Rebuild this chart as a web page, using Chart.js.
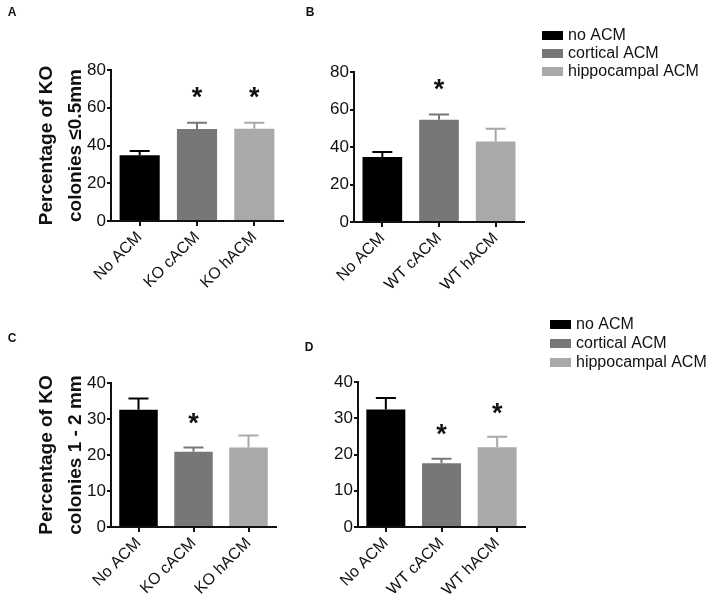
<!DOCTYPE html>
<html>
<head>
<meta charset="utf-8">
<script src="https://cdn.jsdelivr.net/npm/chart.js@4.4.0/dist/chart.umd.min.js"></script>
<style>
  body { margin: 0; background: #fff; }
  #wrap { position: relative; width: 708px; height: 596px; }
  canvas { position: absolute; }
</style>
</head>
<body>
<div id="wrap">
  <canvas id="chartA" width="300" height="300" style="left:0;top:0"></canvas>
  <canvas id="chartB" width="408" height="300" style="left:300px;top:0"></canvas>
  <canvas id="chartC" width="300" height="296" style="left:0;top:300px"></canvas>
  <canvas id="chartD" width="408" height="296" style="left:300px;top:300px"></canvas>
</div>
<script>
const FONT = '"Liberation Sans", Arial, Helvetica, sans-serif';
Chart.defaults.font.family = FONT;
Chart.defaults.color = '#111';

// series / legend
const seriesNames = ['no ACM', 'cortical ACM', 'hippocampal ACM'];
const barColors = ['#000000', '#777777', '#a9a9a9'];

// x categories
const categoriesKO = ['No ACM', 'KO cACM', 'KO hACM'];
const categoriesWT = ['No ACM', 'WT cACM', 'WT hACM'];

// panel A - colonies <=0.5mm, KO ACM
const meanA = [34.8, 48.8, 48.9];
const semA = [2.3, 3.2, 3.1];
const starA = [null, 69, 69];

// panel B - colonies <=0.5mm, WT ACM
const meanB = [34.7, 54.6, 42.9];
const semB = [2.6, 2.8, 6.9];
const starB = [null, 74, null];

// panel C - colonies 1-2 mm, KO ACM
const meanC = [32.6, 20.9, 22.1];
const semC = [3.1, 1.2, 3.3];
const starC = [null, 30.6, null];

// panel D - colonies 1-2 mm, WT ACM
const meanD = [32.4, 17.6, 22.0];
const semD = [3.2, 1.2, 2.9];
const starD = [null, 27.4, 33.1];

// y ticks
const yMaxTop = 80, yStepTop = 20;
const yMaxBottom = 40, yStepBottom = 10;

function makePanel(id, cats, means, sems, stars, cfg) {
    const extras = {
        id: 'extras_' + id,
        afterDatasetsDraw(chart) {
            const ctx = chart.ctx;
            const y = chart.scales.y;
            const meta = chart.getDatasetMeta(0);
            ctx.save();
            meta.data.forEach((bar, i) => {
                // error bar (upper half only)
                const top = y.getPixelForValue(means[i] + sems[i]);
                ctx.strokeStyle = barColors[i];
                ctx.lineWidth = 2;
                ctx.beginPath();
                ctx.moveTo(bar.x, bar.y);
                ctx.lineTo(bar.x, top);
                ctx.moveTo(bar.x - 10, top);
                ctx.lineTo(bar.x + 10, top);
                ctx.stroke();
                // significance star
                if (stars[i] != null) {
                    const fs = 27;
                    ctx.fillStyle = '#111';
                    ctx.font = 'bold ' + fs + 'px ' + FONT;
                    ctx.textAlign = 'center';
                    ctx.textBaseline = 'alphabetic';
                    ctx.fillText('*', bar.x, y.getPixelForValue(stars[i]) + 0.56 * fs);
                }
            });
            ctx.restore();
        },
        afterDraw(chart) {
            const ctx = chart.ctx;
            ctx.save();
            // panel letter
            ctx.fillStyle = '#111';
            ctx.font = 'bold 12px ' + FONT;
            ctx.textAlign = 'center';
            ctx.textBaseline = 'middle';
            ctx.fillText(cfg.letter, cfg.letterX, cfg.letterY);
            // legend
            if (cfg.legend) {
                const lg = cfg.legend;
                ctx.font = '16px ' + FONT;
                ctx.textAlign = 'left';
                seriesNames.forEach((name, i) => {
                    const ry = lg.y + i * lg.row;
                    ctx.fillStyle = barColors[i];
                    ctx.fillRect(lg.x, ry, 21, 9);
                    ctx.fillStyle = '#111';
                    ctx.fillText(name, lg.x + 26, ry + 5);
                });
            }
            ctx.restore();
        }
    };

    return new Chart(document.getElementById(id), {
        type: 'bar',
        data: {
            labels: cats,
            datasets: [{
                data: means,
                backgroundColor: barColors,
                borderWidth: 0,
                categoryPercentage: 0.7,
                barPercentage: 1.0
            }]
        },
        options: {
            responsive: false,
            animation: false,
            layout: { padding: { top: cfg.padTop, right: cfg.padRight, left: 0, bottom: 0 } },
            plugins: { legend: { display: false }, tooltip: { enabled: false } },
            scales: {
                x: {
                    z: 1,
                    border: { display: true, color: '#111', width: 2 },
                    grid: { display: true, drawOnChartArea: false, offset: false, color: '#111', lineWidth: 2, tickLength: 5 },
                    ticks: { font: { size: 16 }, color: '#111', minRotation: 45, maxRotation: 45, padding: 2 },
                    afterFit(scale) { scale.height = cfg.xHeight; }
                },
                y: {
                    z: 1,
                    min: 0,
                    max: cfg.yMax,
                    border: { display: true, color: '#111', width: 2 },
                    grid: { display: true, drawOnChartArea: false, color: '#111', lineWidth: 2, tickLength: 4 },
                    ticks: { stepSize: cfg.yStep, font: { size: 17 }, color: '#111', padding: 1 },
                    title: cfg.title ? {
                        display: true,
                        text: cfg.title,
                        color: '#111',
                        font: { size: 19, weight: 'bold', lineHeight: 1.55 },
                        padding: { top: 32, bottom: 0 }
                    } : { display: false },
                    afterFit(scale) { scale.width = cfg.yWidth; }
                }
            }
        },
        plugins: [extras]
    });
}

makePanel('chartA', categoriesKO, meanA, semA, starA, {
    yMax: yMaxTop, yStep: yStepTop,
    title: ['Percentage of KO', 'colonies \u22640.5mm'],
    padTop: 70, padRight: 17, yWidth: 111, xHeight: 79,
    letter: 'A', letterX: 12, letterY: 13
});

makePanel('chartB', categoriesWT, meanB, semB, starB, {
    yMax: yMaxTop, yStep: yStepTop,
    title: null,
    padTop: 72, padRight: 184, yWidth: 54, xHeight: 78,
    letter: 'B', letterX: 10, letterY: 13,
    legend: { x: 242, y: 31, row: 18 }
});

makePanel('chartC', categoriesKO, meanC, semC, starC, {
    yMax: yMaxBottom, yStep: yStepBottom,
    title: ['Percentage of KO', 'colonies 1 - 2 mm'],
    padTop: 83, padRight: 24, yWidth: 111, xHeight: 69,
    letter: 'C', letterX: 12, letterY: 39
});

makePanel('chartD', categoriesWT, meanD, semD, starD, {
    yMax: yMaxBottom, yStep: yStepBottom,
    title: null,
    padTop: 82, padRight: 183, yWidth: 58, xHeight: 69,
    letter: 'D', letterX: 9, letterY: 48,
    legend: { x: 250, y: 20, row: 19 }
});
</script>
</body>
</html>
